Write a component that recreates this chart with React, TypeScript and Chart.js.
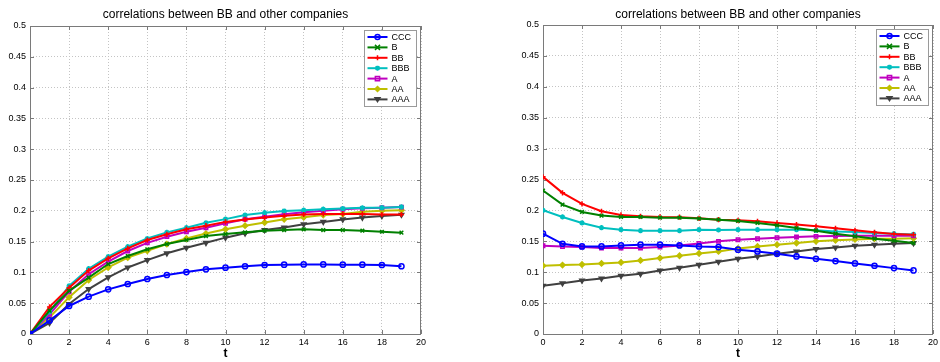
import React, { useEffect, useRef } from 'react';
import { Chart, registerables } from 'chart.js';

Chart.register(...registerables);

// ---------- data ----------
const tValues = [0, 1, 2, 3, 4, 5, 6, 7, 8, 9, 10, 11, 12, 13, 14, 15, 16, 17, 18, 19];
const seriesLabels = ['CCC', 'B', 'BB', 'BBB', 'A', 'AA', 'AAA'];
const seriesColors = ['#0000ff', '#008000', '#ff0000', '#00bfbf', '#bf00bf', '#bfbf00', '#404040'];
const seriesMarkers = ['circle', 'crossRot', 'cross', 'star', 'rect', 'rectRot', 'triangleDown'];

const leftCCC = [0, 0.022, 0.0455, 0.0606, 0.0725, 0.0812, 0.0893, 0.0958, 0.1006, 0.105, 0.1077, 0.110, 0.112, 0.1125, 0.113, 0.113, 0.1125, 0.1125, 0.112, 0.110];
const leftB = [0, 0.038, 0.070, 0.0914, 0.1136, 0.1266, 0.1375, 0.146, 0.1526, 0.159, 0.1623, 0.165, 0.1677, 0.1688, 0.170, 0.1688, 0.1688, 0.1677, 0.166, 0.1645];
const leftBB = [0, 0.044, 0.075, 0.103, 0.1228, 0.139, 0.1526, 0.1618, 0.170, 0.1758, 0.182, 0.186, 0.189, 0.192, 0.194, 0.195, 0.195, 0.195, 0.194, 0.194];
const leftBBB = [0, 0.036, 0.078, 0.106, 0.1255, 0.1417, 0.155, 0.165, 0.1726, 0.1805, 0.1865, 0.193, 0.197, 0.1997, 0.201, 0.2026, 0.2037, 0.2048, 0.205, 0.2063];
const leftA = [0, 0.032, 0.0687, 0.097, 0.1174, 0.1347, 0.148, 0.158, 0.166, 0.1726, 0.1797, 0.1862, 0.1905, 0.1943, 0.1975, 0.2002, 0.2024, 0.204, 0.205, 0.206];
const leftAA = [0, 0.027, 0.0595, 0.0877, 0.108, 0.1239, 0.135, 0.146, 0.155, 0.163, 0.170, 0.1758, 0.181, 0.1862, 0.1894, 0.193, 0.1948, 0.1986, 0.2, 0.201];
const leftAAA = [0, 0.018, 0.0487, 0.073, 0.092, 0.108, 0.12, 0.131, 0.140, 0.148, 0.1564, 0.1634, 0.1688, 0.173, 0.178, 0.182, 0.186, 0.189, 0.1916, 0.1937];

const rightCCC = [0.1623, 0.146, 0.1417, 0.1417, 0.1434, 0.1445, 0.1445, 0.1434, 0.1417, 0.1407, 0.1364, 0.1336, 0.1299, 0.1255, 0.1218, 0.118, 0.1142, 0.1104, 0.1066, 0.1028];
const rightB = [0.232, 0.2094, 0.1975, 0.1916, 0.1894, 0.1894, 0.1883, 0.1883, 0.1867, 0.185, 0.183, 0.1797, 0.1758, 0.1715, 0.1672, 0.1623, 0.158, 0.1542, 0.151, 0.1472];
const rightBB = [0.2543, 0.2284, 0.2105, 0.1986, 0.1926, 0.1905, 0.1894, 0.189, 0.1872, 0.185, 0.184, 0.1823, 0.1797, 0.177, 0.1742, 0.171, 0.1677, 0.1645, 0.1618, 0.1607];
const rightBBB = [0.2002, 0.1894, 0.1797, 0.172, 0.1688, 0.1672, 0.1672, 0.1672, 0.1688, 0.1683, 0.1688, 0.1688, 0.1688, 0.1688, 0.1677, 0.166, 0.165, 0.1634, 0.1623, 0.1612];
const rightA = [0.1428, 0.1417, 0.1407, 0.139, 0.139, 0.139, 0.1407, 0.1434, 0.1466, 0.1499, 0.1526, 0.1542, 0.1558, 0.157, 0.158, 0.1585, 0.159, 0.159, 0.159, 0.159];
const rightAA = [0.1104, 0.1115, 0.1125, 0.1142, 0.1158, 0.119, 0.1228, 0.1266, 0.1304, 0.1336, 0.1385, 0.1417, 0.1445, 0.1472, 0.1499, 0.1515, 0.153, 0.1542, 0.1542, 0.1548];
const rightAAA = [0.0779, 0.0822, 0.0866, 0.0898, 0.0942, 0.0974, 0.1028, 0.1071, 0.112, 0.1169, 0.1218, 0.1255, 0.1299, 0.1336, 0.1374, 0.14, 0.1428, 0.1445, 0.146, 0.1472];

const xTickValues = [0, 2, 4, 6, 8, 10, 12, 14, 16, 18, 20];
const yTickValues = [0, 0.05, 0.1, 0.15, 0.2, 0.25, 0.3, 0.35, 0.4, 0.45, 0.5];
const chartTitle = 'correlations between BB and other companies';
const xAxisTitle = 't';

const leftSeries = [leftCCC, leftB, leftBB, leftBBB, leftA, leftAA, leftAAA];
const rightSeries = [rightCCC, rightB, rightBB, rightBBB, rightA, rightAA, rightAAA];

// ---------- helpers ----------
const FONT = '"Liberation Sans", Arial, Helvetica, sans-serif';
const FRAME_COLOR = '#7a7a7a';

function drawMarker(ctx: CanvasRenderingContext2D, kind: string, x: number, y: number, r: number, color: string) {
  ctx.save();
  ctx.strokeStyle = color;
  ctx.fillStyle = color;
  ctx.lineWidth = 1.5;
  ctx.beginPath();
  switch (kind) {
    case 'circle':
      ctx.arc(x, y, r, 0, Math.PI * 2);
      ctx.stroke();
      break;
    case 'crossRot':
      ctx.moveTo(x - r, y - r); ctx.lineTo(x + r, y + r);
      ctx.moveTo(x + r, y - r); ctx.lineTo(x - r, y + r);
      ctx.stroke();
      break;
    case 'cross':
      ctx.moveTo(x - r, y); ctx.lineTo(x + r, y);
      ctx.moveTo(x, y - r); ctx.lineTo(x, y + r);
      ctx.stroke();
      break;
    case 'star': {
      const d = r * 0.75;
      ctx.moveTo(x - r, y); ctx.lineTo(x + r, y);
      ctx.moveTo(x, y - r); ctx.lineTo(x, y + r);
      ctx.moveTo(x - d, y - d); ctx.lineTo(x + d, y + d);
      ctx.moveTo(x + d, y - d); ctx.lineTo(x - d, y + d);
      ctx.stroke();
      break;
    }
    case 'rect':
      ctx.rect(x - r * 0.85, y - r * 0.85, r * 1.7, r * 1.7);
      ctx.stroke();
      break;
    case 'rectRot':
      ctx.moveTo(x, y - r); ctx.lineTo(x + r, y); ctx.lineTo(x, y + r); ctx.lineTo(x - r, y); ctx.closePath();
      ctx.fill(); ctx.stroke();
      break;
    case 'triangleDown':
      ctx.moveTo(x - r, y - r * 0.7); ctx.lineTo(x + r, y - r * 0.7); ctx.lineTo(x, y + r * 0.9); ctx.closePath();
      ctx.fill(); ctx.stroke();
      break;
  }
  ctx.restore();
}

const framePlugin = {
  id: 'matlabFrame',
  beforeDatasetsDraw(chart: any) {
    const { ctx, chartArea } = chart;
    const { left, right, top, bottom } = chartArea;
    const xs = chart.scales.x;
    const ys = chart.scales.y;
    ctx.save();
    ctx.strokeStyle = FRAME_COLOR;
    ctx.lineWidth = 1;
    ctx.strokeRect(Math.round(left) + 0.5, Math.round(top) + 0.5, Math.round(right - left) - 1, Math.round(bottom - top));
    const tl = 4;
    ctx.beginPath();
    xTickValues.forEach((v) => {
      const px = Math.round(xs.getPixelForValue(v)) + 0.5;
      ctx.moveTo(px, bottom); ctx.lineTo(px, bottom - tl);
      ctx.moveTo(px, top); ctx.lineTo(px, top + tl);
    });
    yTickValues.forEach((v) => {
      const py = Math.round(ys.getPixelForValue(v)) + 0.5;
      ctx.moveTo(left, py); ctx.lineTo(left + tl, py);
      ctx.moveTo(right, py); ctx.lineTo(right - tl, py);
    });
    ctx.stroke();
    ctx.restore();
  },
  afterDatasetsDraw(chart: any) {
    const { ctx, chartArea } = chart;
    // legend box
    const boxW = 52;
    const rowH = 10.4;
    const bx = Math.round(chartArea.right - 57) + 0.5;
    const by = Math.round(chartArea.top + 4) + 0.5;
    const boxH = 76;
    ctx.save();
    ctx.fillStyle = '#ffffff';
    ctx.fillRect(bx, by, boxW, boxH);
    ctx.strokeStyle = '#9a9a9a';
    ctx.lineWidth = 1;
    ctx.strokeRect(bx, by, boxW, boxH);
    ctx.font = '9px ' + FONT;
    ctx.textBaseline = 'middle';
    ctx.textAlign = 'left';
    seriesLabels.forEach((label, i) => {
      const cy = by + 6.5 + i * rowH;
      ctx.strokeStyle = seriesColors[i];
      ctx.lineWidth = 2;
      ctx.beginPath();
      ctx.moveTo(bx + 3, cy);
      ctx.lineTo(bx + 23, cy);
      ctx.stroke();
      drawMarker(ctx, seriesMarkers[i], bx + 13, cy, 2.5, seriesColors[i]);
      ctx.fillStyle = '#000000';
      ctx.fillText(label, bx + 27, cy + 0.5);
    });
    ctx.restore();
  },
  afterDraw(chart: any) {
    const { ctx, chartArea } = chart;
    ctx.save();
    ctx.font = '12px ' + FONT;
    ctx.fillStyle = '#000000';
    ctx.textAlign = 'center';
    ctx.textBaseline = 'alphabetic';
    ctx.fillText(chartTitle, (chartArea.left + chartArea.right) / 2, 18);
    ctx.restore();
  },
};

function pointStyleFor(kind: string) {
  if (kind === 'triangleDown') return 'triangle';
  return kind;
}

function makeChart(canvas: HTMLCanvasElement, series: number[][], padding: { left: number; right: number; top: number }) {
  const datasets = series.map((vals, i) => {
    const kind = seriesMarkers[i];
    const hollow = kind === 'circle' || kind === 'rect';
    return {
      label: seriesLabels[i],
      data: tValues.map((t, j) => ({ x: t, y: vals[j] })),
      borderColor: seriesColors[i],
      backgroundColor: seriesColors[i],
      pointBorderColor: seriesColors[i],
      pointBackgroundColor: hollow ? 'rgba(255,255,255,0)' : seriesColors[i],
      pointStyle: pointStyleFor(kind),
      pointRotation: kind === 'triangleDown' ? 180 : 0,
      pointRadius: kind === 'rect' ? 2.4 : 2.6,
      pointBorderWidth: 1.5,
      borderWidth: 2,
      tension: 0,
      fill: false,
    };
  });
  return new Chart(canvas, {
    type: 'line',
    data: { datasets },
    plugins: [framePlugin],
    options: {
      animation: false,
      responsive: false,
      devicePixelRatio: 1,
      events: [],
      layout: { padding: { left: padding.left, right: padding.right, top: padding.top, bottom: 0 } },
      plugins: { legend: { display: false }, title: { display: false }, tooltip: { enabled: false } },
      scales: {
        x: {
          type: 'linear',
          min: 0,
          max: 20,
          afterBuildTicks: (s: any) => { s.ticks = xTickValues.map((v) => ({ value: v })); },
          afterFit: (s: any) => { s.height = 28; s.paddingLeft = 0; s.paddingRight = 0; s.paddingTop = 0; s.paddingBottom = 0; },
          grid: { color: '#c4c4c4', drawTicks: false, lineWidth: 1 },
          border: { display: false, dash: [1, 2] },
          ticks: {
            padding: 3,
            maxRotation: 0,
            autoSkip: false,
            color: '#000000',
            font: { family: FONT, size: 9 },
            callback: (v: any) => String(v),
          },
          title: {
            display: true,
            text: xAxisTitle,
            color: '#000000',
            font: { family: FONT, size: 12, weight: 'bold' },
            padding: { top: 0, bottom: 1 },
          },
        },
        y: {
          type: 'linear',
          min: 0,
          max: 0.5,
          afterBuildTicks: (s: any) => { s.ticks = yTickValues.map((v) => ({ value: v })); },
          afterFit: (s: any) => { s.width = 30; s.paddingLeft = 0; s.paddingRight = 0; s.paddingTop = 0; s.paddingBottom = 0; },
          grid: { color: '#c4c4c4', drawTicks: false, lineWidth: 1 },
          border: { display: false, dash: [1, 2] },
          ticks: {
            padding: 4,
            autoSkip: false,
            color: '#000000',
            font: { family: FONT, size: 9 },
            callback: (v: any) => String(Number(Number(v).toFixed(2))),
          },
        },
      },
    } as any,
  });
}

export default function App() {
  const leftRef = useRef<HTMLCanvasElement | null>(null);
  const rightRef = useRef<HTMLCanvasElement | null>(null);

  useEffect(() => {
    const charts: Chart[] = [];
    if (leftRef.current) charts.push(makeChart(leftRef.current, leftSeries, { left: 0, right: 49, top: 26 }));
    if (rightRef.current) charts.push(makeChart(rightRef.current, rightSeries, { left: 43, right: 7, top: 25 }));
    return () => charts.forEach((c) => c.destroy());
  }, []);

  return (
    <div style={{ position: 'absolute', left: 0, top: 0, width: 940, height: 362, background: '#ffffff', overflow: 'hidden' }}>
      <canvas ref={leftRef} width={470} height={362} style={{ position: 'absolute', left: 0, top: 0, width: 470, height: 362 }} />
      <canvas ref={rightRef} width={470} height={362} style={{ position: 'absolute', left: 470, top: 0, width: 470, height: 362 }} />
    </div>
  );
}
